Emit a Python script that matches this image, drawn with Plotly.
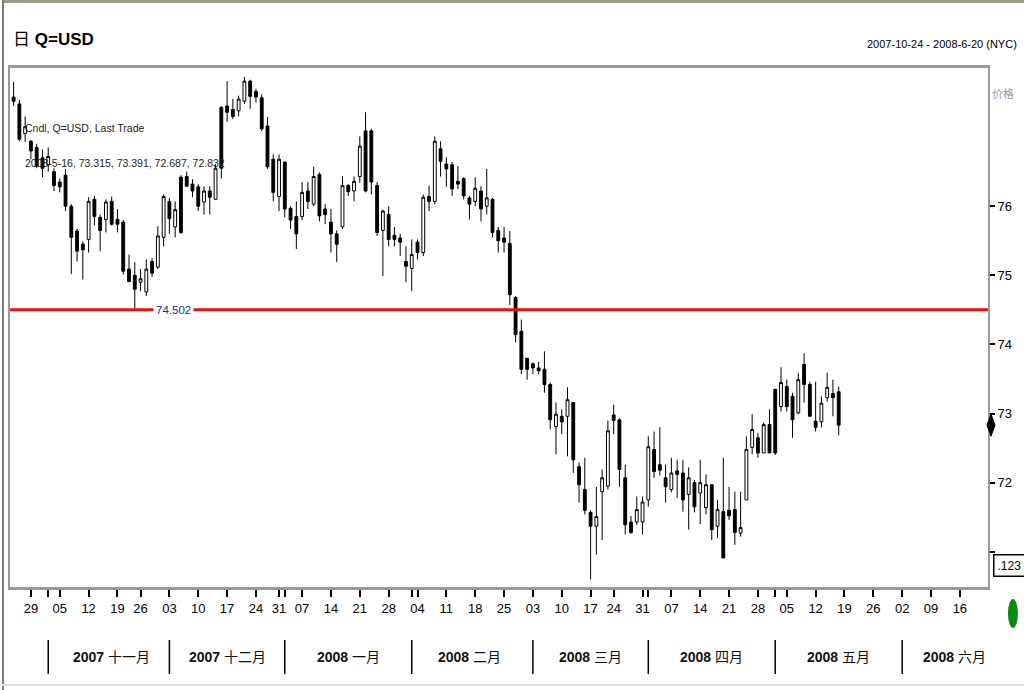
import plotly.graph_objects as go
import pandas as pd

# ---------------- data ----------------
holidays = ["2007-11-22", "2007-12-25", "2008-01-01", "2008-03-21"]
dates = [d for d in pd.bdate_range("2007-10-24", "2008-05-16")
         if d.strftime("%Y-%m-%d") not in holidays]

open_vals = [
    77.58, 77.48, 77.05, 76.94, 76.85, 76.70, 76.60, 76.50, 76.35, 76.45,
    76.00, 75.64, 75.45, 75.52, 76.10, 75.84, 75.81, 76.07, 75.81, 75.77,
    75.09, 75.00, 74.90, 74.76, 75.20, 75.12, 75.55, 76.07, 75.70, 76.42,
    76.43, 76.32, 76.28, 76.06, 76.22, 76.10, 77.43, 77.45, 77.40, 77.38,
    77.52, 77.81, 77.66, 77.57, 77.16, 76.68, 76.14, 76.64, 75.97, 75.85,
    75.85, 76.22, 76.03, 76.46, 75.96, 75.77, 75.60, 75.70, 76.30, 76.22,
    76.43, 77.09, 77.09, 76.30, 75.65, 75.88, 75.58, 75.54, 75.20, 75.10,
    75.48, 75.33, 76.14, 76.07, 76.83, 76.61, 76.60, 76.36, 76.40, 76.12,
    76.07, 76.22, 76.00, 76.10, 75.65, 75.54, 75.46, 74.68, 74.19, 73.80,
    73.72, 73.66, 73.64, 73.42, 72.81, 72.96, 72.96, 73.16, 72.23, 71.90,
    71.57, 71.37, 71.87, 71.95, 72.98, 72.91, 72.07, 71.43, 71.43, 71.43,
    71.75, 72.48, 72.26, 72.07, 71.90, 72.17, 72.14, 71.83, 72.00, 71.85,
    71.64, 71.97, 71.37, 71.58, 71.60, 71.61, 71.27, 71.75, 72.51, 72.65,
    72.43, 72.84, 73.35, 73.10, 73.39, 73.25, 73.01, 73.71, 73.42, 72.89,
    72.88, 73.23, 73.29, 73.315,
]
high_vals = [
    77.80, 77.54, 77.30, 76.96, 76.90, 76.82, 76.85, 76.55, 76.40, 76.54,
    76.03, 75.67, 75.49, 76.13, 76.15, 75.88, 76.10, 76.14, 75.96, 75.80,
    75.30, 75.19, 75.09, 75.23, 75.25, 75.71, 76.17, 76.12, 76.07, 76.45,
    76.50, 76.39, 76.32, 76.29, 76.29, 76.61, 77.45, 77.81, 77.55, 77.60,
    77.87, 77.83, 77.70, 77.62, 77.29, 76.75, 76.75, 76.64, 76.00, 76.07,
    76.35, 76.35, 76.57, 76.49, 76.03, 75.96, 75.65, 76.43, 76.32, 76.43,
    77.01, 77.36, 77.12, 76.35, 75.95, 76.00, 75.70, 75.60, 75.42, 75.52,
    75.52, 76.17, 76.30, 77.01, 76.94, 76.71, 76.64, 76.58, 76.42, 76.15,
    76.42, 76.29, 76.54, 76.12, 75.70, 75.70, 75.64, 74.70, 74.36, 73.80,
    73.74, 73.75, 73.90, 73.45, 73.16, 73.06, 73.38, 73.16, 72.29, 72.36,
    71.60, 71.94, 72.19, 72.90, 73.13, 72.93, 72.26, 71.52, 71.80, 71.80,
    72.67, 72.74, 72.80, 72.26, 72.36, 72.33, 72.33, 72.22, 72.04, 72.33,
    72.12, 71.97, 71.75, 72.36, 71.94, 71.87, 71.87, 72.67, 72.99, 72.72,
    72.87, 73.06, 73.35, 73.67, 73.49, 73.30, 73.59, 73.87, 73.46, 73.46,
    73.25, 73.59, 73.49, 73.391,
]
low_vals = [
    77.45, 76.94, 76.93, 76.68, 76.55, 76.42, 76.50, 76.22, 76.20, 75.93,
    75.02, 75.20, 74.94, 75.33, 75.72, 75.35, 75.62, 75.72, 75.62, 75.01,
    74.90, 74.50, 74.77, 74.70, 74.98, 75.09, 75.42, 75.60, 75.55, 75.60,
    76.28, 76.13, 75.93, 75.88, 75.88, 76.10, 76.40, 77.22, 77.26, 77.30,
    77.48, 77.41, 77.50, 77.09, 76.54, 76.07, 75.93, 75.84, 75.67, 75.38,
    75.80, 75.96, 76.00, 75.78, 75.74, 75.33, 75.19, 75.67, 76.15, 76.07,
    76.34, 76.20, 76.17, 75.57, 74.99, 75.42, 75.42, 75.28, 74.90, 74.77,
    75.23, 75.28, 75.93, 76.03, 76.43, 76.28, 76.15, 76.25, 76.10, 75.81,
    76.00, 75.78, 75.88, 75.55, 75.33, 75.33, 74.57, 74.03, 73.57, 73.49,
    73.57, 73.57, 73.30, 72.77, 72.41, 72.70, 72.38, 72.14, 71.71, 71.54,
    70.60, 70.96, 71.17, 71.90, 72.70, 71.94, 71.25, 71.26, 71.39, 71.25,
    71.65, 72.07, 72.10, 71.71, 71.86, 71.78, 71.58, 71.32, 71.57, 71.40,
    71.54, 71.17, 71.20, 70.91, 71.46, 71.10, 71.22, 71.75, 72.41, 72.36,
    72.43, 72.43, 72.40, 73.03, 73.03, 72.65, 72.99, 73.16, 72.96, 72.74,
    72.80, 73.17, 72.96, 72.687,
]
close_vals = [
    77.52, 76.97, 77.15, 76.80, 76.58, 76.55, 76.72, 76.30, 76.28, 76.00,
    75.55, 75.35, 75.37, 76.07, 75.85, 75.65, 76.06, 75.74, 75.74, 75.06,
    74.91, 74.80, 74.95, 75.09, 75.03, 75.57, 76.14, 75.82, 75.95, 75.62,
    76.29, 76.22, 76.00, 76.22, 76.13, 76.55, 76.55, 77.36, 77.30, 77.55,
    77.81, 77.59, 77.58, 77.12, 76.57, 76.20, 76.68, 75.96, 75.80, 75.60,
    76.20, 76.07, 76.43, 75.86, 75.88, 75.60, 75.45, 76.30, 76.21, 76.36,
    76.87, 76.22, 76.35, 75.62, 75.93, 75.52, 75.52, 75.48, 75.13, 75.30,
    75.33, 76.13, 76.07, 76.94, 76.65, 76.54, 76.25, 76.32, 76.15, 76.03,
    76.26, 75.96, 76.12, 75.62, 75.50, 75.48, 74.72, 74.14, 73.64, 73.64,
    73.66, 73.62, 73.42, 72.91, 72.99, 72.88, 73.20, 72.33, 71.97, 71.60,
    71.37, 71.51, 72.07, 72.75, 72.90, 72.19, 71.39, 71.28, 71.61, 71.72,
    72.52, 72.16, 72.18, 71.94, 72.14, 72.12, 71.75, 72.07, 71.65, 72.00,
    71.97, 71.32, 71.61, 70.91, 71.52, 71.28, 71.35, 72.48, 72.77, 72.43,
    72.84, 72.43, 72.43, 73.45, 73.10, 72.91, 73.49, 73.42, 72.96, 72.80,
    73.15, 73.38, 73.23, 72.832,
]

ref_level = 74.502
ref_label = "74.502"
y_ticks = [72, 73, 74, 75, 76]
week_ticks = ["2007-10-29", "2007-11-05", "2007-11-12", "2007-11-19", "2007-11-26",
              "2007-12-03", "2007-12-10", "2007-12-17", "2007-12-24", "2007-12-31",
              "2008-01-07", "2008-01-14", "2008-01-21", "2008-01-28", "2008-02-04",
              "2008-02-11", "2008-02-18", "2008-02-25", "2008-03-03", "2008-03-10",
              "2008-03-17", "2008-03-24", "2008-03-31", "2008-04-07", "2008-04-14",
              "2008-04-21", "2008-04-28", "2008-05-05", "2008-05-12", "2008-05-19",
              "2008-05-26", "2008-06-02", "2008-06-09", "2008-06-16"]
month_starts = ["2007-11-01", "2007-12-03", "2008-01-02", "2008-02-01",
                "2008-03-03", "2008-04-01", "2008-05-01", "2008-06-02"]
month_label_pos = ["2007-11-16", "2007-12-17", "2008-01-17", "2008-02-15",
                   "2008-03-17", "2008-04-16", "2008-05-16", "2008-06-13"]
month_years = ["2007", "2007", "2008", "2008", "2008", "2008", "2008", "2008"]
month_names = ["十一月", "十二月", "一月", "二月", "三月", "四月", "五月", "六月"]

title_text = "Q=USD"
range_text = "2007-10-24 - 2008-6-20 (NYC)"
legend_line1 = "Cndl, Q=USD, Last Trade"
legend_line2 = "2008-5-16, 73.315, 73.391, 72.687, 72.832"

# ---------------- layout helpers ----------------
W, H = 1024, 690
L, R, T, B = 8, 988, 68, 587


def px(x):
    return (x - L) / (R - L)


def py(y):
    return (B - y) / (B - T)


SANS = "Liberation Sans, Arial, sans-serif"
CJK = "Liberation Sans, Noto Sans CJK SC, sans-serif"

fig = go.Figure()
fig.add_trace(go.Candlestick(
    x=dates, open=open_vals, high=high_vals, low=low_vals, close=close_vals,
    increasing=dict(line=dict(color="black", width=1), fillcolor="white"),
    decreasing=dict(line=dict(color="black", width=1), fillcolor="black"),
    whiskerwidth=0, showlegend=False, hoverinfo="skip",
))

tickvals = week_ticks + [m for m in month_starts if m not in week_ticks]
ticktext = [d[-2:] for d in week_ticks] + ["" for m in month_starts if m not in week_ticks]

shapes = []
annotations = []

# reference line
shapes.append(dict(type="line", xref="paper", yref="y", x0=0, x1=1,
                   y0=ref_level, y1=ref_level, line=dict(color="#e51010", width=3)))
annotations.append(dict(xref="paper", yref="y", x=px(172), y=ref_level, text=ref_label,
                        showarrow=False, bgcolor="white",
                        font=dict(family=SANS, size=11.5, color="#1c2a8c"),
                        xanchor="center", yanchor="middle", borderpad=2))

# month separators and labels
for m in month_starts:
    shapes.append(dict(type="line", xref="x", yref="paper", x0=m, x1=m,
                       y0=py(640), y1=py(674), line=dict(color="black", width=1.5)))
for pos, yr, nm in zip(month_label_pos, month_years, month_names):
    annotations.append(dict(xref="x", yref="paper", x=pos, y=py(657),
                            text="<b>" + yr + "</b> " + nm, showarrow=False,
                            font=dict(family=CJK, size=14, color="#111"),
                            xanchor="center", yanchor="middle"))

# header texts
annotations.append(dict(xref="paper", yref="paper", x=px(9), y=py(40),
                        text="日 <b>" + title_text + "</b>", showarrow=False,
                        font=dict(family=CJK, size=17, color="black"),
                        xanchor="left", yanchor="middle"))
annotations.append(dict(xref="paper", yref="paper", x=px(1019), y=py(44),
                        text=range_text, showarrow=False,
                        font=dict(family=SANS, size=11, color="black"),
                        xanchor="right", yanchor="middle"))
annotations.append(dict(xref="paper", yref="paper", x=px(990), y=py(93),
                        text="价格", showarrow=False,
                        font=dict(family="Noto Sans CJK SC, sans-serif", size=11, color="#9a9a9a"),
                        xanchor="left", yanchor="middle"))
annotations.append(dict(xref="paper", yref="paper", x=px(21), y=py(128),
                        text=legend_line1, showarrow=False,
                        font=dict(family=SANS, size=10.5, color="#222"),
                        xanchor="left", yanchor="middle"))
annotations.append(dict(xref="paper", yref="paper", x=px(21), y=py(163),
                        text=legend_line2, showarrow=False,
                        font=dict(family=SANS, size=10.5, color="#222"),
                        xanchor="left", yanchor="middle"))
# boxed label at bottom of price axis
annotations.append(dict(xref="paper", yref="paper", x=px(993), y=py(565),
                        text=".123", showarrow=False, bgcolor="white",
                        bordercolor="black", borderwidth=1.5, borderpad=3,
                        font=dict(family=SANS, size=12, color="black"),
                        xanchor="left", yanchor="middle"))

# last price marker on the axis
last = close_vals[-1]
shapes.append(dict(type="path", xref="paper", yref="y",
                   path=f"M {px(991)},{last + 0.16} L {px(995)},{last} L {px(991)},{last - 0.16} L {px(987)},{last} Z",
                   fillcolor="black", line=dict(color="black", width=1)))

# green status dot
shapes.append(dict(type="circle", xref="paper", yref="paper", x0=px(1008), x1=px(1018),
                   y0=py(628), y1=py(599), fillcolor="#0b8a12", line=dict(width=0)))

# outer image border
shapes.append(dict(type="line", xref="paper", yref="paper", x0=px(0), x1=px(1024),
                   y0=py(1.5), y1=py(1.5), line=dict(color="#9c9c8c", width=3)))
shapes.append(dict(type="line", xref="paper", yref="paper", x0=px(1), x1=px(1),
                   y0=py(0), y1=py(690), line=dict(color="#7c7c7c", width=2)))
shapes.append(dict(type="line", xref="paper", yref="paper", x0=px(0), x1=px(1024),
                   y0=py(685), y1=py(685), line=dict(color="#dddddd", width=2)))

fig.update_layout(
    width=W, height=H,
    margin=dict(l=L, r=W - R, t=T, b=H - B),
    paper_bgcolor="white", plot_bgcolor="white",
    showlegend=False,
    shapes=shapes, annotations=annotations,
    xaxis=dict(
        type="date",
        range=["2007-10-23 09:00", "2008-06-20 21:00"],
        rangebreaks=[dict(bounds=["sat", "mon"]), dict(values=holidays)],
        rangeslider=dict(visible=False),
        tickmode="array", tickvals=tickvals, ticktext=ticktext,
        ticks="outside", ticklen=7, tickwidth=1.5, tickcolor="black",
        tickfont=dict(family=SANS, size=13, color="black"),
        showgrid=False, zeroline=False,
        showline=True, linecolor="#999999", linewidth=3, mirror=True,
    ),
    yaxis=dict(
        side="right", range=[70.49, 78.0],
        tickmode="array", tickvals=y_ticks + [71], ticktext=[str(v) for v in y_ticks] + [""],
        ticks="outside", ticklen=5, tickwidth=2, tickcolor="black",
        tickfont=dict(family=SANS, size=13, color="black"),
        showgrid=False, zeroline=False,
        showline=True, linecolor="#999999", linewidth=2, mirror=True,
    ),
)

fig.write_html("out.html", config={"displayModeBar": False},
               post_script="document.body.style.margin='0';document.body.style.overflow='hidden';")
